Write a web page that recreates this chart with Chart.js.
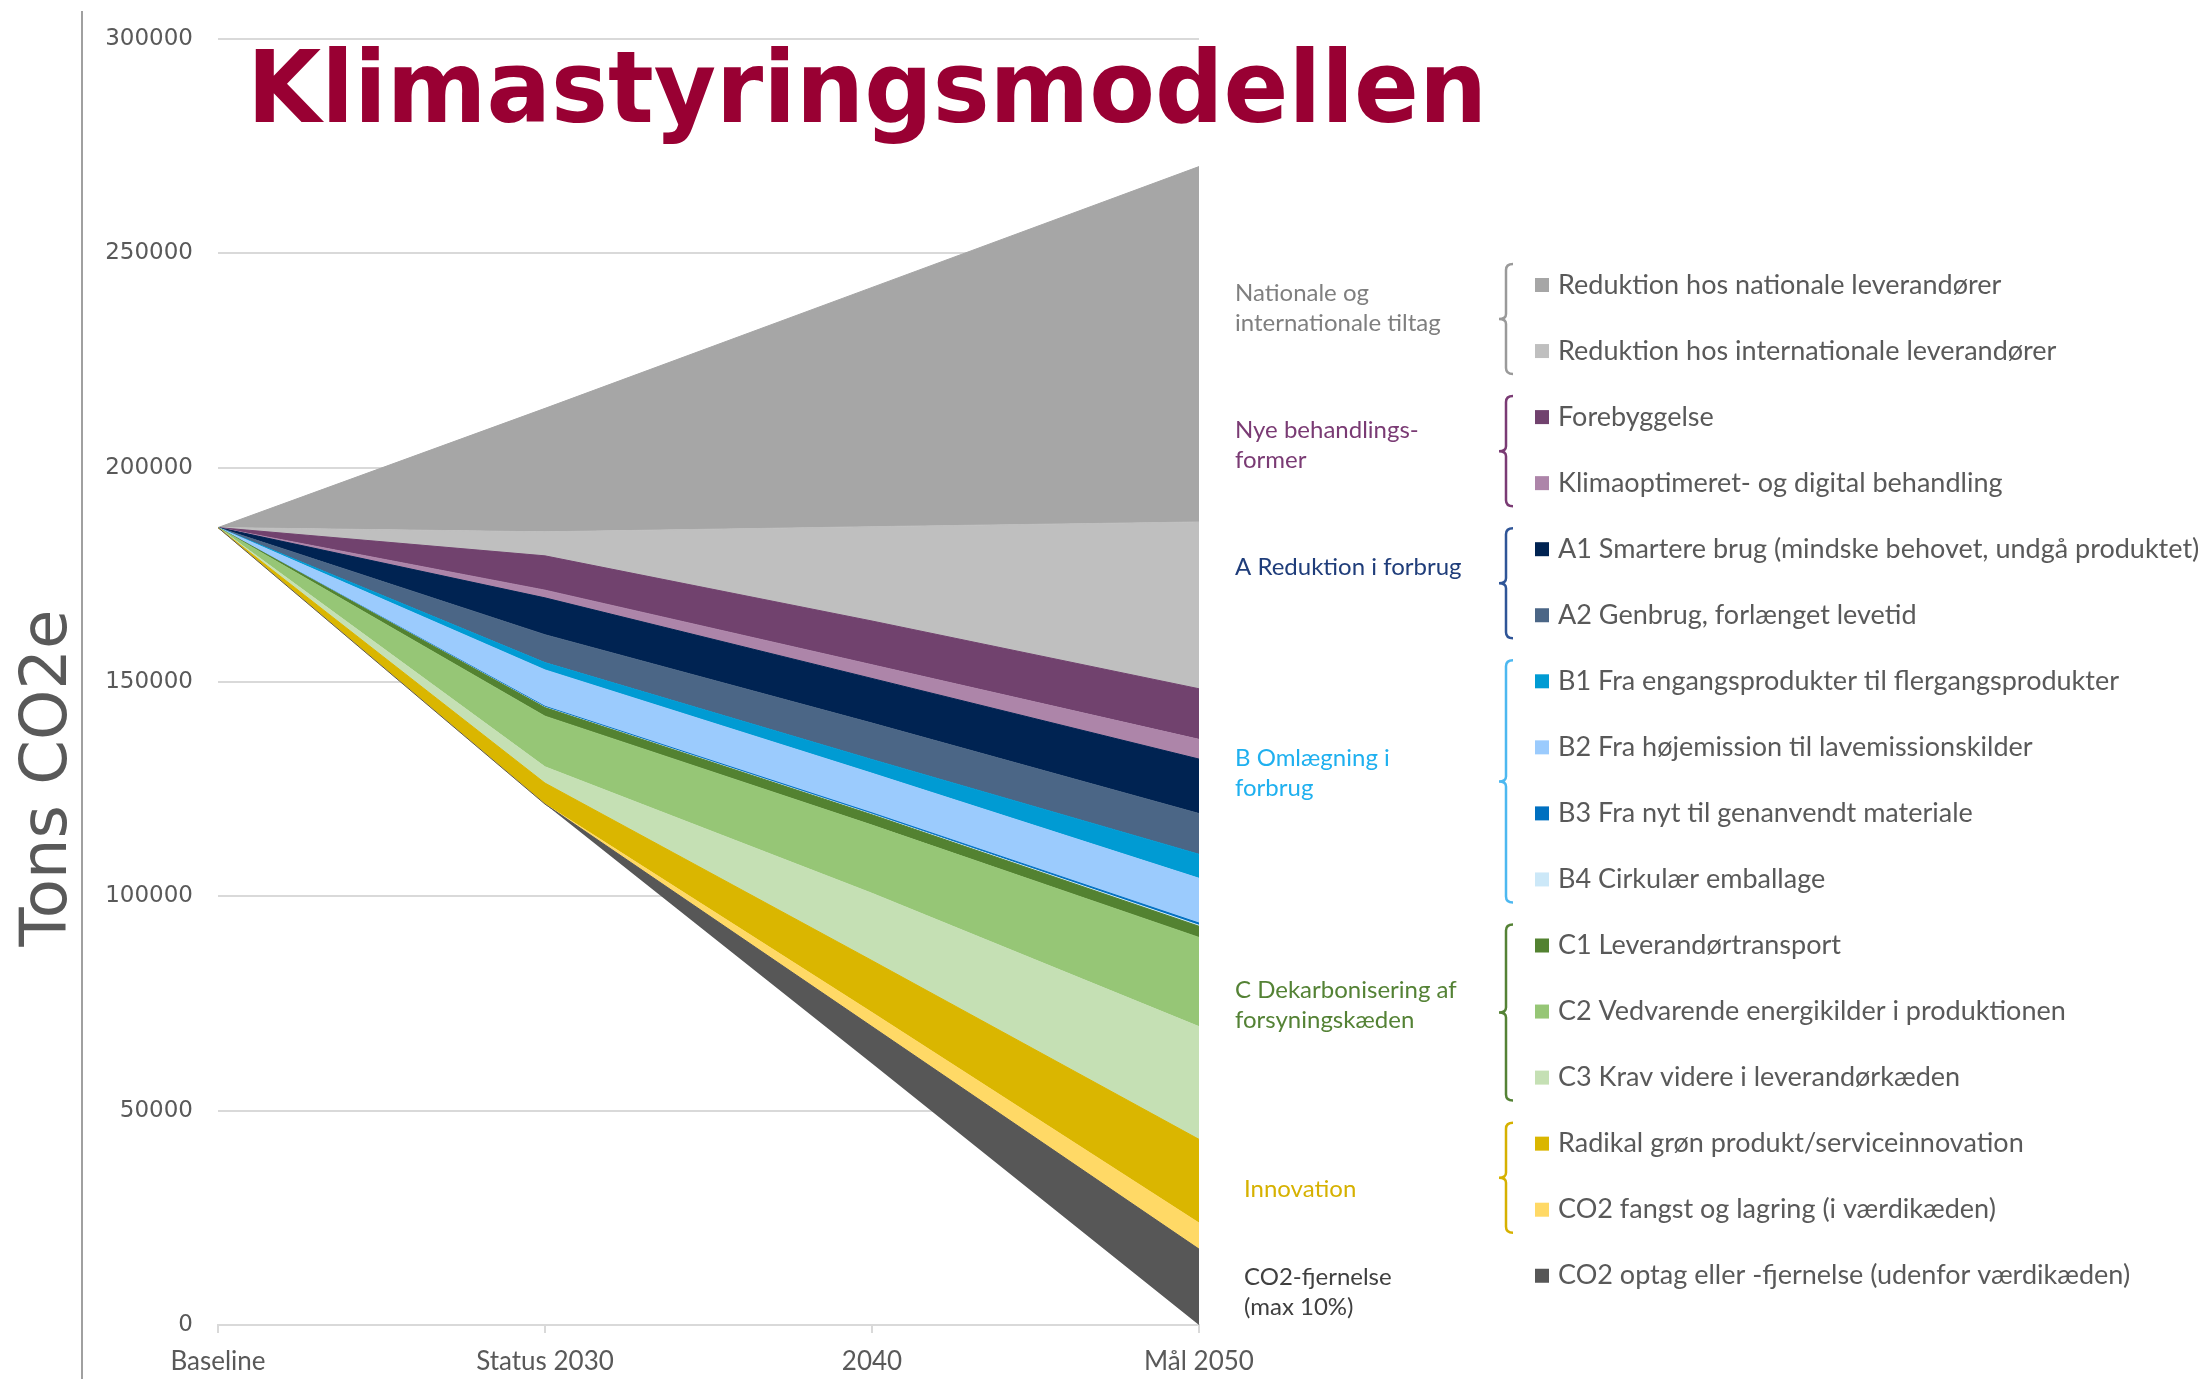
<!DOCTYPE html>
<html>
<head>
<meta charset="utf-8">
<title>Klimastyringsmodellen</title>
<script src="https://cdn.jsdelivr.net/npm/chart.js@4.4.0/dist/chart.umd.min.js"></script>
<style>
  html, body { margin: 0; padding: 0; background: #fff; }
</style>
</head>
<body>
<canvas id="klimaChart" width="2210" height="1379"></canvas>
<script>
// Categories and series (tons CO2e, stacked bottom to top)
const categories = ['Baseline', 'Status 2030', '2040', 'Mål 2050'];

// remaining emission, the invisible bottom of the stack
const restEmission = [186000, 121500, 61000, 0];

const co2Optag = [0, 0, 8600, 17700];
const co2Fangst = [0, 0, 3300, 6100];
const radikalInnovation = [0, 4900, 12100, 19500];
const c3Krav = [0, 3800, 15700, 26300];
const c2Vedvarende = [0, 11800, 15900, 20800];
const c1Transport = [0, 2000, 2400, 2600];
const b4Emballage = [0, 100, 150, 250];
const b3Genanvendt = [0, 200, 300, 500];
const b2Lavemission = [0, 8500, 9250, 10450];
const b1Flergang = [0, 1700, 3200, 5600];
const a2Genbrug = [0, 6500, 8500, 9500];
const a1Smartere = [0, 8600, 10400, 12700];
const klimaoptimeret = [0, 1800, 3200, 4600];
const forebyggelse = [0, 8000, 10200, 11800];
const internationale = [0, 5600, 22000, 38900];
const nationale = [0, 28800, 55800, 82900];

const yTicks = [0, 50000, 100000, 150000, 200000, 250000, 300000];

// legend groups, top to bottom
const groups = [
    { lines: ['Nationale og', 'internationale tiltag'], color: '#7f7f7f', brace: '#9a9a9a', items: 2 },
    { lines: ['Nye behandlings-', 'former'], color: '#7a3b74', brace: '#7a3b74', items: 2 },
    { lines: ['A Reduktion i forbrug'], color: '#1f3d7a', brace: '#2f5597', items: 2 },
    { lines: ['B Omlægning i', 'forbrug'], color: '#1fb0ef', brace: '#4db8f0', items: 4 },
    { lines: ['C Dekarbonisering af', 'forsyningskæden'], color: '#548235', brace: '#548235', items: 3 },
    { lines: ['Innovation'], color: '#d6b100', brace: '#d6b100', items: 2 },
    { lines: ['CO2-fjernelse', '(max 10%)'], color: '#404040', brace: null, items: 1 }
];
const groupLabelPos = [[1235, 293], [1235, 430], [1235, 567], [1235, 758], [1235, 990], [1244, 1189], [1244, 1277]];

function area(label, data, color) {
    return {
        label: label,
        data: data,
        backgroundColor: color,
        borderColor: color,
        borderWidth: 1,
        fill: '-1',
        pointRadius: 0,
        pointHoverRadius: 0
    };
}

function drawBrace(ctx, x, top, bottom, color) {
    const mid = (top + bottom) / 2;
    ctx.strokeStyle = color;
    ctx.lineWidth = 2.5;
    ctx.beginPath();
    ctx.moveTo(x + 7, top);
    ctx.quadraticCurveTo(x, top, x, top + 6);
    ctx.lineTo(x, mid - 5);
    ctx.quadraticCurveTo(x, mid, x - 7, mid);
    ctx.quadraticCurveTo(x, mid, x, mid + 5);
    ctx.lineTo(x, bottom - 6);
    ctx.quadraticCurveTo(x, bottom, x + 7, bottom);
    ctx.stroke();
}

// title, y title, left rule and the grouped legend
const slideDecor = {
    id: 'slideDecor',
    afterDraw(chart) {
        const ctx = chart.ctx;
        ctx.save();

        ctx.strokeStyle = '#a0a0a0';
        ctx.lineWidth = 2;
        ctx.beginPath();
        ctx.moveTo(82, 11);
        ctx.lineTo(82, 1379);
        ctx.stroke();

        ctx.save();
        ctx.translate(66, 778);
        ctx.rotate(-Math.PI / 2);
        ctx.fillStyle = '#595959';
        ctx.font = '64px "DejaVu Sans"';
        ctx.textAlign = 'center';
        ctx.textBaseline = 'alphabetic';
        ctx.fillText('Tons CO2e', 0, 0, 345);
        ctx.restore();

        ctx.fillStyle = '#990033';
        ctx.font = 'bold 100px "DejaVu Sans"';
        ctx.textAlign = 'left';
        ctx.textBaseline = 'alphabetic';
        ctx.fillText('Klimastyringsmodellen', 247, 122, 1240);

        // legend rows
        const rowTop = 285, rowStep = 66.05;
        const items = chart.data.datasets.slice(1).reverse();
        ctx.textBaseline = 'middle';
        items.forEach((ds, i) => {
            const y = rowTop + i * rowStep;
            ctx.fillStyle = ds.backgroundColor;
            ctx.fillRect(1535, y - 7, 14, 14);
            ctx.fillStyle = '#595959';
            ctx.font = '27px Lato';
            ctx.fillText(ds.label, 1558, y);
        });

        let row = 0;
        groups.forEach((g, gi) => {
            const first = rowTop + row * rowStep;
            const last = rowTop + (row + g.items - 1) * rowStep;
            if (g.brace) drawBrace(ctx, 1506, first - 21, last + 23, g.brace);
            ctx.fillStyle = g.color;
            ctx.font = '24px Lato';
            const pos = groupLabelPos[gi];
            g.lines.forEach((t, li) => ctx.fillText(t, pos[0], pos[1] + li * 30));
            row += g.items;
        });

        ctx.restore();
    }
};

new Chart(document.getElementById('klimaChart'), {
    type: 'line',
    data: {
        labels: categories,
        datasets: [
            {
                label: 'Rest',
                data: restEmission,
                backgroundColor: 'rgba(0,0,0,0)',
                borderColor: 'rgba(0,0,0,0)',
                borderWidth: 0,
                showLine: false,
                fill: false,
                pointRadius: 0,
                pointHoverRadius: 0
            },
            area('CO2 optag eller -fjernelse (udenfor værdikæden)', co2Optag, '#575757'),
            area('CO2 fangst og lagring (i værdikæden)', co2Fangst, '#ffd966'),
            area('Radikal grøn produkt/serviceinnovation', radikalInnovation, '#dab600'),
            area('C3 Krav videre i leverandørkæden', c3Krav, '#c5e0b4'),
            area('C2 Vedvarende energikilder i produktionen', c2Vedvarende, '#96c676'),
            area('C1 Leverandørtransport', c1Transport, '#538231'),
            area('B4 Cirkulær emballage', b4Emballage, '#cce8f8'),
            area('B3 Fra nyt til genanvendt materiale', b3Genanvendt, '#0070c0'),
            area('B2 Fra højemission til lavemissionskilder', b2Lavemission, '#9bcbfd'),
            area('B1 Fra engangsprodukter til flergangsprodukter', b1Flergang, '#009bd3'),
            area('A2 Genbrug, forlænget levetid', a2Genbrug, '#4b6686'),
            area('A1 Smartere brug (mindske behovet, undgå produktet)', a1Smartere, '#002352'),
            area('Klimaoptimeret- og digital behandling', klimaoptimeret, '#ad85a9'),
            area('Forebyggelse', forebyggelse, '#71426e'),
            area('Reduktion hos internationale leverandører', internationale, '#bfbfbf'),
            area('Reduktion hos nationale leverandører', nationale, '#a6a6a6')
        ]
    },
    options: {
        responsive: false,
        animation: false,
        layout: { padding: { left: 0, right: 1011, top: 31, bottom: 0 } },
        plugins: {
            legend: { display: false },
            tooltip: { enabled: false }
        },
        elements: { line: { tension: 0 } },
        scales: {
            x: {
                offset: false,
                grid: {
                    drawOnChartArea: false,
                    drawTicks: true,
                    tickLength: 8,
                    color: '#d9d9d9',
                    lineWidth: 2
                },
                border: { display: true, color: '#d9d9d9', width: 2 },
                ticks: {
                    color: '#595959',
                    font: { family: 'Lato', size: 26 },
                    padding: 13,
                    maxRotation: 0,
                    autoSkip: false
                },
                afterFit(scale) { scale.height = 54; }
            },
            y: {
                stacked: true,
                min: 0,
                max: 300000,
                grid: { color: '#d9d9d9', lineWidth: 2, drawTicks: false },
                border: { display: false },
                ticks: {
                    color: '#595959',
                    font: { family: 'DejaVu Sans', size: 23 },
                    padding: 25,
                    callback: v => String(v)
                },
                afterBuildTicks(scale) { scale.ticks = yTicks.map(v => ({ value: v })); },
                afterFit(scale) { scale.width = 218; }
            }
        }
    },
    plugins: [slideDecor]
});
</script>
</body>
</html>
